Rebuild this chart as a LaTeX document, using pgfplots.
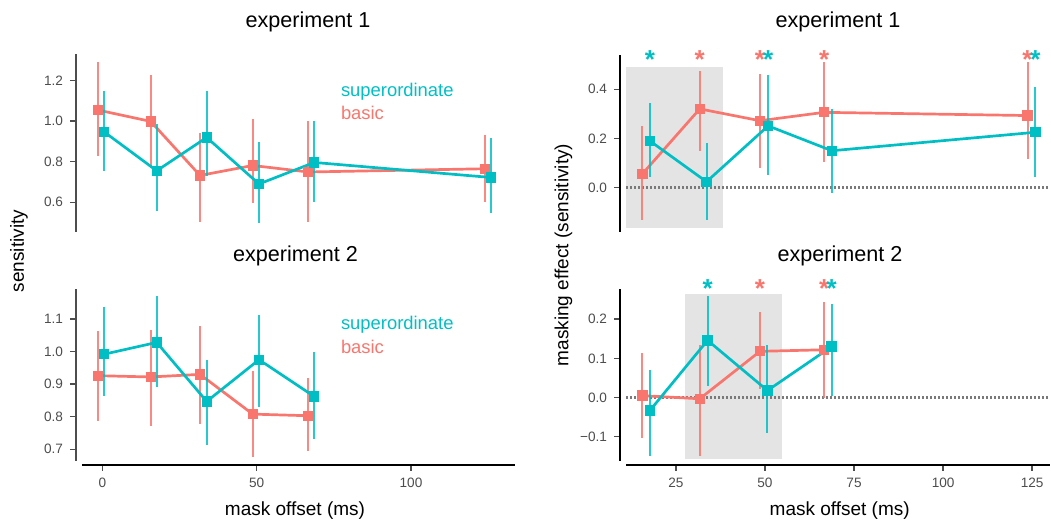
\documentclass[border=0pt]{standalone}
\usepackage{fontspec}
\setmainfont{Liberation Sans}
\usepackage{pgfplots}
\pgfplotsset{compat=1.18}
\usepackage{pgfplotstable}

\definecolor{cbasic}{HTML}{F8766D}
\definecolor{csup}{HTML}{00BFC4}
\definecolor{tickc}{HTML}{4D4D4D}
\definecolor{shade}{HTML}{E4E4E4}
\definecolor{zeroc}{HTML}{7A7A7A}

% x y lo hi  (lo/hi = ends of the error bar)
\pgfplotstableread{
x y lo hi
-1.39 1.054 0.830 1.290
15.68 0.998 0.770 1.228
31.65 0.732 0.505 0.940
48.72 0.781 0.595 1.011
66.73 0.749 0.505 1.000
124.07 0.765 0.600 0.930
}\eoneB
\pgfplotstableread{
x y lo hi
0.65 0.946 0.752 1.146
17.62 0.755 0.555 0.985
33.82 0.919 0.727 1.146
50.76 0.690 0.500 0.897
68.68 0.796 0.600 0.998
125.91 0.722 0.547 0.916
}\eoneS
\pgfplotstableread{
x y lo hi
-1.39 0.926 0.787 1.064
15.68 0.922 0.772 1.066
31.65 0.930 0.778 1.078
48.72 0.808 0.675 0.941
66.73 0.803 0.695 0.918
}\etwoB
\pgfplotstableread{
x y lo hi
0.65 0.992 0.865 1.138
17.62 1.028 0.891 1.170
33.82 0.847 0.713 0.975
50.76 0.975 0.829 1.112
68.68 0.862 0.731 1.000
}\etwoS
\pgfplotstableread{
x y lo hi
15.6 0.056 -0.131 0.252
31.7 0.320 0.150 0.474
48.6 0.272 0.079 0.462
66.6 0.306 0.106 0.510
123.7 0.293 0.115 0.510
}\moneB
\pgfplotstableread{
x y lo hi
17.7 0.190 0.042 0.343
33.6 0.024 -0.131 0.180
50.9 0.251 0.052 0.458
68.8 0.150 -0.020 0.319
125.9 0.225 0.042 0.410
}\moneS
\pgfplotstableread{
x y lo hi
15.6 0.005 -0.102 0.115
31.7 -0.003 -0.148 0.133
48.6 0.118 0.021 0.219
66.6 0.122 -0.002 0.243
}\mtwoB
\pgfplotstableread{
x y lo hi
17.7 -0.033 -0.148 0.071
33.9 0.146 0.030 0.259
50.7 0.018 -0.090 0.133
68.7 0.130 0.003 0.238
}\mtwoS

\pgfplotsset{
  panel/.style={
    scale only axis, clip=false,
    axis x line*=bottom, axis y line*=left,
    axis line style={draw=none},
    tick align=outside, major tick length=3pt,
    major tick style={tickc, line width=0.7pt},
    major y tick style={xshift=-3pt},
    major x tick style={yshift=-2pt},
    yticklabel style={xshift=-3pt},
    xticklabel style={yshift=-2pt},
    ticklabel style={font=\fontsize{6.8}{8}\selectfont, text=tickc},
    minor tick num=0,
  },
  ser/.style={#1, line width=1.35pt, mark=square*, mark size=1.9pt,
    error bars/.cd, y dir=both, y explicit, error mark=none,
    error bar style={#1, line width=1pt, opacity=0.85}},
  star/.style={only marks, #1, mark=text, text mark={*}, text mark as node=true,
    text mark style={font=\bfseries\fontsize{13}{13}\selectfont, inner sep=0pt, yshift=-2.8pt}},
  zero/.style={zeroc, line width=1.25pt, dash pattern=on 1.1pt off 0.9pt},
  table/errtab/.style={x=x, y=y,
    y error plus expr=\thisrow{hi}-\thisrow{y},
    y error minus expr=\thisrow{y}-\thisrow{lo}},
}

\begin{document}
\begin{tikzpicture}
\path[use as bounding box] (0,0) rectangle (525.5pt,-262.5pt);

% ---- left top: experiment 1 sensitivity
\begin{axis}[panel, at={(41pt,-115.85pt)}, anchor=south west,
  width=216.5pt, height=88.85pt,
  xmin=-6.58, xmax=133.7, ymin=0.455, ymax=1.33,
  xtick=\empty, ytick={0.6,0.8,1.0,1.2}, yticklabels={0.6,0.8,1.0,1.2},
  after end axis/.code={\draw[tickc, line width=1pt] ([xshift=-3pt]rel axis cs:0,0) -- ([xshift=-3pt]rel axis cs:0,1);}]
\addplot[ser=cbasic] table[errtab] {\eoneB};
\addplot[ser=csup] table[errtab] {\eoneS};
\node[anchor=west, inner sep=0pt, text=csup, font=\fontsize{9.2}{10}\selectfont] at (axis cs:77.2,1.144) {superordinate};
\node[anchor=west, inner sep=0pt, text=cbasic, font=\fontsize{9.2}{10}\selectfont] at (axis cs:77.2,1.038) {basic};
\end{axis}

% ---- left bottom: experiment 2 sensitivity
\begin{axis}[panel, at={(41pt,-230.35pt)}, anchor=south west,
  width=216.5pt, height=85.85pt,
  xmin=-6.58, xmax=133.7, ymin=0.665, ymax=1.192,
  xtick={0,50,100}, xticklabels={0,50,100},
  ytick={0.7,0.8,0.9,1.0,1.1}, yticklabels={0.7,0.8,0.9,1.0,1.1},
  after end axis/.code={\draw[tickc, line width=1pt] ([xshift=-3pt]rel axis cs:0,0) -- ([xshift=-3pt]rel axis cs:0,1);
    \draw[black, line width=1pt] ([yshift=-2pt]rel axis cs:0,0) -- ([yshift=-2pt]rel axis cs:1,0);}]
\addplot[ser=cbasic] table[errtab] {\etwoB};
\addplot[ser=csup] table[errtab] {\etwoS};
\node[anchor=west, inner sep=0pt, text=csup, font=\fontsize{9.2}{10}\selectfont] at (axis cs:77.2,1.0815) {superordinate};
\node[anchor=west, inner sep=0pt, text=cbasic, font=\fontsize{9.2}{10}\selectfont] at (axis cs:77.2,1.013) {basic};
\end{axis}

% ---- right top: experiment 1 masking effect
\begin{axis}[panel, at={(313pt,-115.85pt)}, anchor=south west,
  width=212pt, height=88.35pt,
  xmin=11, xmax=130, ymin=-0.179, ymax=0.539,
  xtick=\empty, ytick={0,0.2,0.4}, yticklabels={0.0,0.2,0.4},
  after end axis/.code={\draw[black, line width=1pt] ([xshift=-3pt]rel axis cs:0,0) -- ([xshift=-3pt]rel axis cs:0,1);}]
\addplot[fill=shade, draw=none] coordinates {(11,-0.163) (38.1,-0.163) (38.1,0.489) (11,0.489)} -- cycle;
\addplot[zero] coordinates {(11,0) (130,0)};
\addplot[ser=cbasic] table[errtab] {\moneB};
\addplot[ser=csup] table[errtab] {\moneS};
\addplot[star=cbasic] coordinates {(31.7,0.542) (48.6,0.542) (66.6,0.542) (123.7,0.542)};
\addplot[star=csup] coordinates {(17.7,0.542) (50.9,0.542) (125.9,0.542)};
\end{axis}

% ---- right bottom: experiment 2 masking effect
\begin{axis}[panel, at={(313pt,-230.35pt)}, anchor=south west,
  width=212pt, height=85.85pt,
  xmin=11, xmax=130, ymin=-0.161, ymax=0.277,
  xtick={25,50,75,100,125}, xticklabels={25,50,75,100,125},
  ytick={-0.1,0,0.1,0.2}, yticklabels={−0.1,0.0,0.1,0.2},
  after end axis/.code={\draw[black, line width=1pt] ([xshift=-3pt]rel axis cs:0,0) -- ([xshift=-3pt]rel axis cs:0,1);
    \draw[black, line width=1pt] ([yshift=-2pt]rel axis cs:0,0) -- ([yshift=-2pt]rel axis cs:1,0);}]
\addplot[fill=shade, draw=none] coordinates {(27.5,-0.157) (54.7,-0.157) (54.7,0.265) (27.5,0.265)} -- cycle;
\addplot[zero] coordinates {(11,0) (130,0)};
\addplot[ser=cbasic] table[errtab] {\mtwoB};
\addplot[ser=csup] table[errtab] {\mtwoS};
\addplot[star=cbasic] coordinates {(48.6,0.2916) (66.6,0.2916)};
\addplot[star=csup] coordinates {(33.9,0.2916) (68.7,0.2916)};
\end{axis}

% ---- titles and axis labels
\node[font=\fontsize{10.8}{12}\selectfont] at (154pt,-10.85pt) {experiment 1};
\node[font=\fontsize{10.8}{12}\selectfont] at (419pt,-10.85pt) {experiment 1};
\node[font=\fontsize{10.8}{12}\selectfont] at (147.75pt,-127.85pt) {experiment 2};
\node[font=\fontsize{10.8}{12}\selectfont] at (420pt,-127.85pt) {experiment 2};
\node[font=\fontsize{9.5}{11}\selectfont] at (147.5pt,-255.25pt) {mask offset (ms)};
\node[font=\fontsize{9.5}{11}\selectfont] at (419.85pt,-255.5pt) {mask offset (ms)};
\node[font=\fontsize{9.5}{11}\selectfont, rotate=90] at (9.5pt,-125.5pt) {sensitivity};
\node[font=\fontsize{9.5}{11}\selectfont, rotate=90] at (281.75pt,-127.5pt) {masking effect (sensitivity)};
\end{tikzpicture}
\end{document}
